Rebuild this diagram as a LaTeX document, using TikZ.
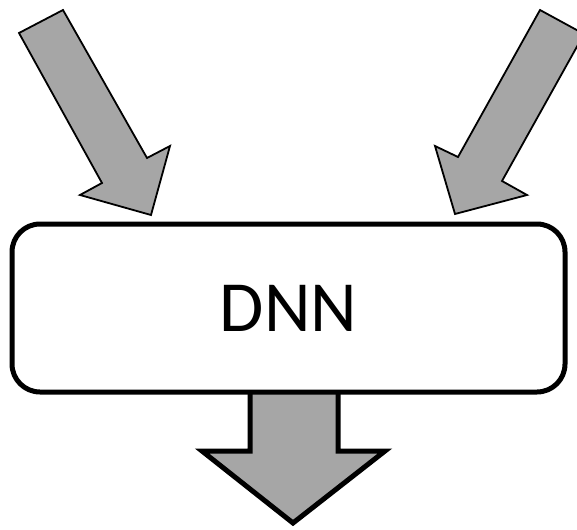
\documentclass[tikz,border=0pt]{standalone}
\usepackage{fontspec}
\setmainfont{Carlito}
\definecolor{arrowgray}{HTML}{A6A6A6}
\begin{document}
\begin{tikzpicture}[x=1pt,y=-1pt,
  inarrow/.style={draw=black,fill=arrowgray,line width=1.8pt,line join=miter},
  outarrow/.style={draw=black,fill=arrowgray,line width=5pt,line join=miter},
  dnnbox/.style={draw=black,fill=white,line width=5pt,rounded corners=28pt,
    minimum width=553pt,minimum height=168pt,inner sep=0pt,
    font=\fontsize{72}{80}\selectfont}]
\useasboundingbox (0,0) rectangle (577,529);
\begin{scope}
\clip (0,0) rectangle (577,529);
\draw[inarrow] (19,33) -- (63,10) -- (147,158) -- (170,146) -- (151,215) -- (80,195) -- (102,183) -- cycle;
\draw[inarrow] (540,10) -- (584,34) -- (502,181) -- (527,195) -- (455,214) -- (435,146) -- (458,157) -- cycle;
\end{scope}
\draw[outarrow] (250,380) -- (250,451) -- (202,451) -- (293,523) -- (385,451) -- (338,451) -- (338,380) -- cycle;
\node[dnnbox] (dnn) at (288.5,308) {DNN};
\end{tikzpicture}
\end{document}
